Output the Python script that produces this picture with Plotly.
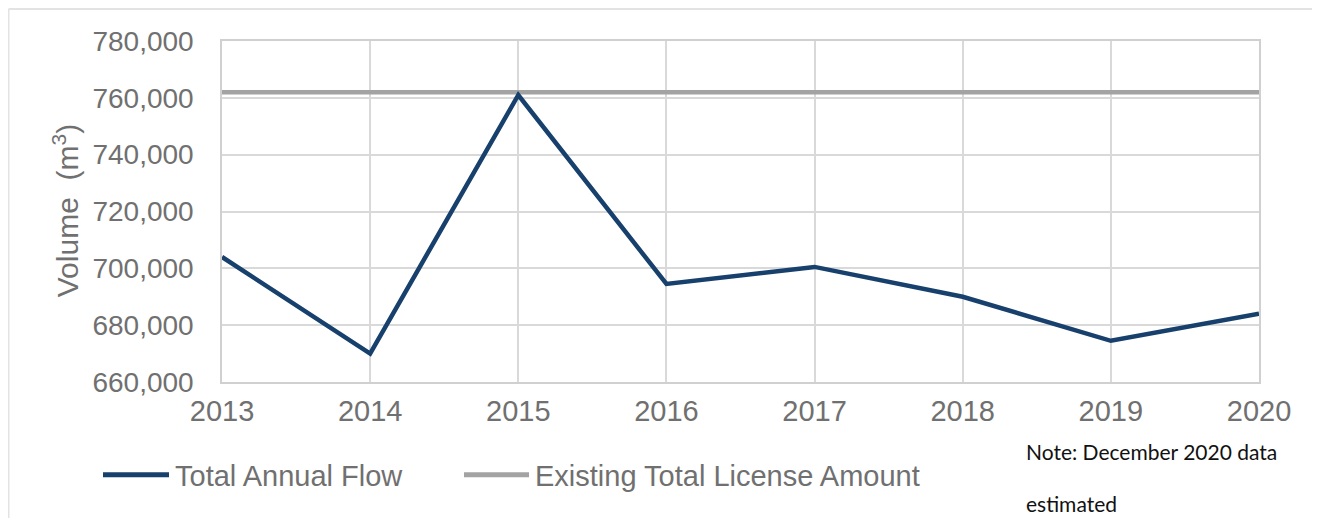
import plotly.graph_objects as go

# ---- data ----
years = [2013, 2014, 2015, 2016, 2017, 2018, 2019, 2020]
total_annual_flow = [704000, 670000, 761000, 694500, 700500, 690000, 674500, 684000]
license_amount = [762000, 762000, 762000, 762000, 762000, 762000, 762000, 762000]
y_ticks = [660000, 680000, 700000, 720000, 740000, 760000, 780000]
series_names = ["Total Annual Flow", "Existing Total License Amount"]
y_title = "Volume  (m<sup>3</sup>)"
note_lines = ["Note: December 2020 data", "estimated"]
caption = "Figure 3-1: Total Licensed Water Consumption"

# ---- layout constants (pixels, in page coordinates) ----
W, H = 1320, 518
OFF = 8  # page body margin
L, R, T, B = 222, 1259, 40.5, 382
NAVY = "#17406d"
GRAY = "#a3a3a3"
TXT = "#707070"
GRID = "#d9d9d9"
FONT = "Liberation Sans, Arial, sans-serif"
NOTE_FONT = "Lato, Carlito, sans-serif"


def px(x):
    return (x - L) / (R - L)


def py(y):
    return (B - y) / (B - T)


fig = go.Figure()
fig.add_trace(go.Scatter(x=years, y=license_amount, mode="lines",
                         name=series_names[1],
                         line=dict(color=GRAY, width=4.5)))
fig.add_trace(go.Scatter(x=years, y=total_annual_flow, mode="lines",
                         name=series_names[0],
                         line=dict(color=NAVY, width=4.5)))

shapes = []
annotations = []

# outer frame (top and left)
shapes.append(dict(type="line", xref="paper", yref="paper",
                   x0=px(OFF + 0.5), x1=px(W + 5), y0=py(OFF + 0.5), y1=py(OFF + 0.5),
                   line=dict(color="#e3e3e3", width=2)))
shapes.append(dict(type="line", xref="paper", yref="paper",
                   x0=px(OFF + 0.5), x1=px(OFF + 0.5), y0=py(OFF + 0.5), y1=py(H + 5),
                   line=dict(color="#e3e3e3", width=2)))

# custom legend
legend_items = [(103, 169, 173, NAVY, series_names[0]),
                (464, 529, 533, GRAY, series_names[1])]
for x0, x1, xt, col, name in legend_items:
    shapes.append(dict(type="line", xref="paper", yref="paper",
                       x0=px(x0), x1=px(x1), y0=py(475), y1=py(475),
                       line=dict(color=col, width=5)))
    annotations.append(dict(xref="paper", yref="paper", x=px(xt), y=py(476),
                            xanchor="left", yanchor="middle", showarrow=False,
                            text=name, font=dict(family=FONT, size=29, color=TXT)))

# y-axis title
annotations.append(dict(xref="paper", yref="paper", x=px(66), y=py(211),
                        xanchor="center", yanchor="middle", showarrow=False,
                        textangle=-90, text=y_title,
                        font=dict(family=FONT, size=30, color=TXT)))

# note
annotations.append(dict(xref="paper", yref="paper", x=px(1024), y=py(452),
                        xanchor="left", yanchor="middle", showarrow=False,
                        text=note_lines[0],
                        font=dict(family=NOTE_FONT, size=21, color="#111111")))
annotations.append(dict(xref="paper", yref="paper", x=px(1024), y=py(504),
                        xanchor="left", yanchor="middle", showarrow=False,
                        text=note_lines[1],
                        font=dict(family=NOTE_FONT, size=21, color="#111111")))

# cut-off caption
annotations.append(dict(xref="paper", yref="paper", x=px(800), y=py(510),
                        xanchor="center", yanchor="top", showarrow=False,
                        text=caption,
                        font=dict(family=NOTE_FONT, size=20, color="#2f5597")))

fig.update_layout(
    width=W - OFF, height=H - OFF,
    margin=dict(l=L - OFF, r=W - R, t=T - OFF, b=H - B, pad=0),
    paper_bgcolor="white", plot_bgcolor="white",
    showlegend=False,
    shapes=shapes,
    annotations=annotations,
    font=dict(family=FONT, color=TXT),
)
fig.update_xaxes(range=[years[0], years[-1]], tickmode="array", tickvals=years,
                 ticktext=[str(y) for y in years],
                 showgrid=True, gridcolor=GRID, gridwidth=1.5,
                 showline=True, linecolor="#d0d0d0", linewidth=1.5, mirror=True,
                 zeroline=False, ticks="", ticklabelstandoff=2,
                 tickfont=dict(family=FONT, size=29, color=TXT))
fig.update_yaxes(range=[y_ticks[0], y_ticks[-1]], tickmode="array", tickvals=y_ticks,
                 tickformat=",", showgrid=True, gridcolor=GRID, gridwidth=1.5,
                 showline=True, linecolor="#d0d0d0", linewidth=1.5, mirror=True,
                 zeroline=False, ticks="", ticklabelstandoff=21,
                 tickfont=dict(family=FONT, size=28, color=TXT))

fig.write_html("out.html")
